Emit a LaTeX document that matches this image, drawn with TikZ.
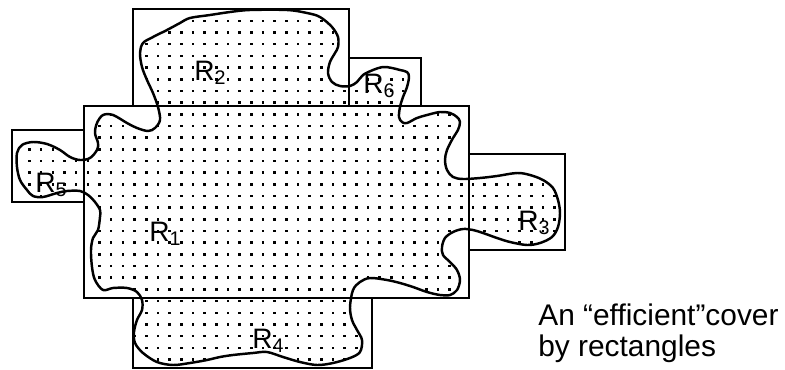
\documentclass[tikz,border=0pt]{standalone}
\usepackage{fontspec}
\setsansfont{Liberation Sans}
\usetikzlibrary{positioning}

% outline of the region (pixel units)
\newcommand{\regionpath}{plot[smooth cycle, tension=0.55] coordinates {
    (250,10) (287,10) (307,13) (320,17) (332,27) (338,37) (338,47) (335,53)
    (330,62) (328,73) (332,82) (340,86) (350,86) (357,82) (363,75) (373,70)
    (383,67) (392,68) (400,70) (407,72) (409,77) (407,87) (403,97) (400,107)
    (399,117) (402,122) (407,123) (417,118) (427,115) (440,112) (450,113)
    (457,117) (460,122) (458,130) (453,138) (447,150) (445,160) (447,170)
    (453,177) (463,179) (480,178) (497,176) (517,173) (530,175) (543,180)
    (553,188) (558,200) (560,213) (558,227) (552,237) (540,243) (527,245)
    (510,242) (497,238) (483,233) (473,230) (463,229) (453,232) (445,238)
    (442,247) (443,255) (450,262) (457,270) (460,280) (457,290) (450,295)
    (440,295) (427,292) (413,287) (400,283) (387,280) (370,278) (360,282)
    (353,290) (350,307) (352,320) (357,330) (362,340) (360,352) (350,358)
    (333,363) (317,365) (300,362) (283,357) (267,352) (253,353) (233,355)
    (220,357) (207,360) (190,363) (173,365) (157,362) (143,353) (135,343)
    (134,332) (137,320) (142,310) (142,300) (137,292) (127,288) (113,288)
    (103,290) (95,280) (92,267) (91,250) (93,238) (98,230) (100,217)
    (100,210) (95,202) (88,195) (80,191) (67,191) (57,193) (43,197)
    (33,196) (27,190) (20,180) (17,167) (17,153) (22,145) (33,142)
    (47,144) (60,150) (70,157) (80,160) (90,158) (97,150) (98,143)
    (95,133) (97,123) (103,115) (113,115) (127,123) (137,128) (148,131)
    (155,128) (160,120) (158,107) (153,93) (147,80) (142,67) (140,53)
    (143,43) (153,37) (167,30) (180,23) (190,18) (210,15) (230,12)
}}

\begin{document}
\begin{tikzpicture}[
        x=0.02cm, y=-0.02cm,
        font=\sffamily\fontsize{16}{18.2}\selectfont,
        cover/.style={draw, line width=1.2pt},
        region/.style={draw, line width=1.4pt, line join=round},
        dot/.style={fill=black},
        rlabel/.style={anchor=base west, inner sep=0pt}
    ]
    \useasboundingbox (0,0) rectangle (785,369);

    % ========================================================
    % 1. DOTTED REGION
    % ========================================================
    \begin{scope}
        \clip \regionpath;
        \foreach \i in {0,...,46} {
            \foreach \j in {0,...,29} {
                \fill[dot] (28.2+11.67*\i, 19.5+11.68*\j) rectangle ++(2.6,2.6);
            }
        }
    \end{scope}
    \draw[region] \regionpath;

    % ========================================================
    % 2. COVERING RECTANGLES
    % ========================================================
    \draw[cover] (84,106) rectangle (469,298);   % R1
    \draw[cover] (133,9) rectangle (349,106);    % R2
    \draw[cover] (469,154) rectangle (565,250);  % R3
    \draw[cover] (133,298) rectangle (372,368);  % R4
    \draw[cover] (12,130) rectangle (84,202);    % R5
    \draw[cover] (349,58) rectangle (421,106);   % R6

    % Labels
    \node[rlabel] (r1) at (149,241) {R\textsubscript{1}};
    \node[rlabel] (r2) at (194,80) {R\textsubscript{2}};
    \node[rlabel] (r3) at (518,230) {R\textsubscript{3}};
    \node[rlabel] (r4) at (252,348) {R\textsubscript{4}};
    \node[rlabel] (r5) at (35,192) {R\textsubscript{5}};
    \node[rlabel] (r6) at (363,93) {R\textsubscript{6}};

    % ========================================================
    % 3. CAPTION
    % ========================================================
    \node[anchor=north west, inner sep=0pt, align=left,
          font=\sffamily\fontsize{17}{18.2}\selectfont] (caption) at (538,303)
        {An “efficient”cover\\by rectangles};
\end{tikzpicture}
\end{document}
